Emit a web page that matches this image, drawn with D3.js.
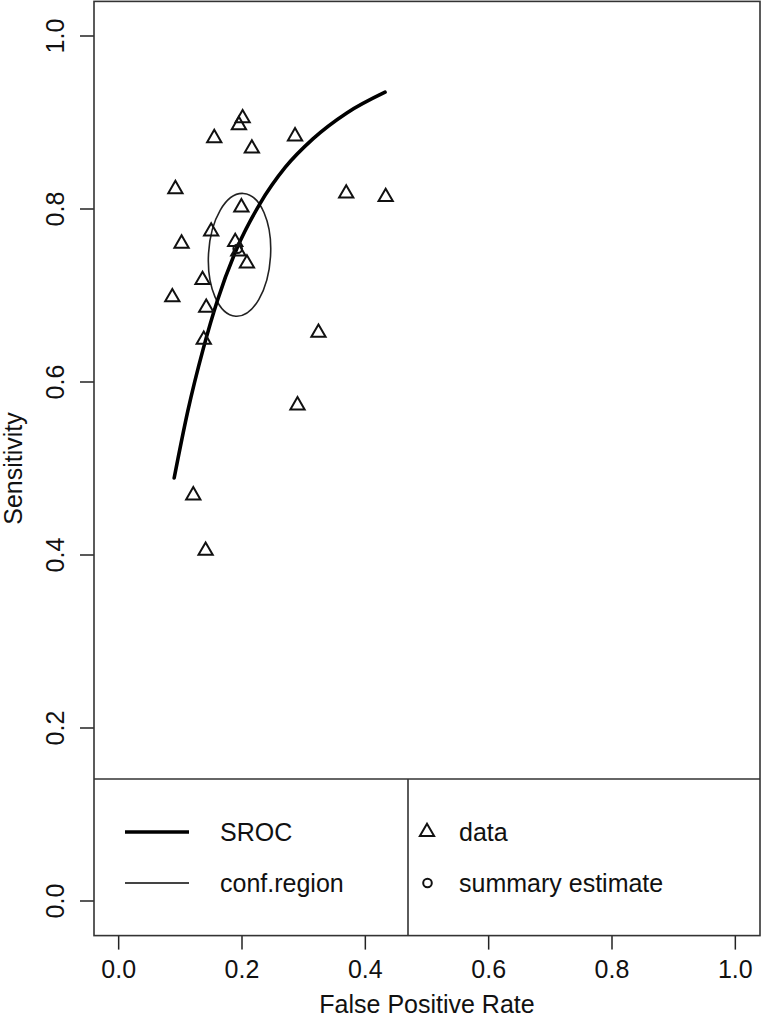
<!DOCTYPE html>
<html>
<head>
<meta charset="utf-8">
<script src="https://cdn.jsdelivr.net/npm/d3@7"></script>
<style>
	body { margin: 0; background: #fff; }
	svg { display: block; font-family: "Liberation Sans", Arial, Helvetica, sans-serif; }
	text { fill: #111; }
</style>
</head>
<body>
<div id="content"></div>
<script>
// study points
let fpr = [0.201, 0.195, 0.155, 0.216, 0.286, 0.092, 0.369, 0.433, 0.199, 0.150, 0.102,
	0.189, 0.194, 0.208, 0.136, 0.087, 0.142, 0.324, 0.138, 0.290, 0.121, 0.141]
let sens = [0.905, 0.897, 0.882, 0.870, 0.884, 0.823, 0.818, 0.814, 0.802, 0.774, 0.760,
	0.762, 0.751, 0.737, 0.718, 0.698, 0.686, 0.657, 0.649, 0.573, 0.469, 0.405]

// SROC curve, traced
let sroc_fpr = [0.090, 0.112, 0.137, 0.160, 0.192, 0.229, 0.270, 0.315, 0.370, 0.432]
let sroc_sens = [0.489, 0.566, 0.638, 0.694, 0.755, 0.806, 0.848, 0.881, 0.911, 0.935]

// summary estimate and its confidence region (centre, half widths)
let summary = { fpr: 0.193, sens: 0.754 }
let region = { fpr: 0.196, sens: 0.747, rx: 0.0503, ry: 0.0711 }

let x_ticks = [0, 0.2, 0.4, 0.6, 0.8, 1]
let y_ticks = [0, 0.2, 0.4, 0.6, 0.8, 1]

let legend_lines = ['SROC', 'conf.region']
let legend_points = ['data', 'summary estimate']

let WIDTH = 762
let HEIGHT = 1020
let FONT = 25
let TICK = 14

let x = d3.scaleLinear().domain([-0.04, 1.04]).range([94, 760])
let y = d3.scaleLinear().domain([-0.04, 1.04]).range([935.6, 1.4])

let svg = d3.select('#content').append('svg')
	.attr('width', WIDTH)
	.attr('height', HEIGHT)

let triangle = d3.symbol().type(d3.symbolTriangle).size(88)

// axes
let x_axis = svg.append('g')
	.attr('transform', `translate(0, ${y(-0.04)})`)
x_axis.selectAll('line').data(x_ticks).enter().append('line')
	.attr('x1', (d) => { return x(d) })
	.attr('x2', (d) => { return x(d) })
	.attr('y1', 0)
	.attr('y2', TICK)
	.attr('stroke', '#222')
	.attr('stroke-width', 1.5)
x_axis.selectAll('text').data(x_ticks).enter().append('text')
	.attr('x', (d) => { return x(d) })
	.attr('y', 42)
	.attr('text-anchor', 'middle')
	.style('font-size', `${FONT}px`)
	.text((d) => { return d.toFixed(1) })

let y_axis = svg.append('g')
	.attr('transform', `translate(${x(-0.04)}, 0)`)
y_axis.selectAll('line').data(y_ticks).enter().append('line')
	.attr('x1', 0)
	.attr('x2', -TICK)
	.attr('y1', (d) => { return y(d) })
	.attr('y2', (d) => { return y(d) })
	.attr('stroke', '#222')
	.attr('stroke-width', 1.5)
y_axis.selectAll('text').data(y_ticks).enter().append('text')
	.attr('transform', (d) => { return `translate(-30.5, ${y(d)}) rotate(-90)` })
	.attr('text-anchor', 'middle')
	.style('font-size', `${FONT}px`)
	.text((d) => { return d.toFixed(1) })

svg.append('text')
	.attr('x', (x(-0.04) + x(1.04)) / 2)
	.attr('y', 1013)
	.attr('text-anchor', 'middle')
	.style('font-size', `${FONT}px`)
	.text('False Positive Rate')

svg.append('text')
	.attr('transform', `translate(22, ${(y(-0.04) + y(1.04)) / 2}) rotate(-90)`)
	.attr('text-anchor', 'middle')
	.style('font-size', `${FONT}px`)
	.text('Sensitivity')

// confidence region
svg.append('ellipse')
	.attr('cx', x(region.fpr))
	.attr('cy', y(region.sens))
	.attr('rx', x(region.fpr + region.rx) - x(region.fpr))
	.attr('ry', y(region.sens) - y(region.sens + region.ry))
	.attr('transform', `rotate(3.5, ${x(region.fpr)}, ${y(region.sens)})`)
	.attr('fill', 'none')
	.attr('stroke', '#222')
	.attr('stroke-width', 1.6)

// SROC
let line = d3.line()
	.x((d) => { return x(d[0]) })
	.y((d) => { return y(d[1]) })
	.curve(d3.curveMonotoneX)

svg.append('path')
	.datum(d3.zip(sroc_fpr, sroc_sens))
	.attr('d', line)
	.attr('fill', 'none')
	.attr('stroke', '#000')
	.attr('stroke-width', 3.6)
	.attr('stroke-linecap', 'round')

// data points
svg.selectAll('path.point').data(d3.zip(fpr, sens)).enter().append('path')
	.attr('class', 'point')
	.attr('d', triangle)
	.attr('transform', (d) => { return `translate(${x(d[0])}, ${y(d[1])})` })
	.attr('fill', 'none')
	.attr('stroke', '#111')
	.attr('stroke-width', 2)

svg.append('circle')
	.attr('cx', x(summary.fpr))
	.attr('cy', y(summary.sens))
	.attr('r', 4.3)
	.attr('fill', 'none')
	.attr('stroke', '#111')
	.attr('stroke-width', 2)

// legend
let legend = svg.append('g')
legend.append('line')
	.attr('x1', x(-0.04)).attr('x2', x(1.04))
	.attr('y1', 779).attr('y2', 779)
	.attr('stroke', '#333').attr('stroke-width', 1.6)
legend.append('line')
	.attr('x1', 408).attr('x2', 408)
	.attr('y1', 779).attr('y2', y(-0.04))
	.attr('stroke', '#333').attr('stroke-width', 1.6)

let ROW = [832, 883]
legend.selectAll('line.key').data(legend_lines).enter().append('line')
	.attr('class', 'key')
	.attr('x1', 125).attr('x2', 189)
	.attr('y1', (d, i) => { return ROW[i] })
	.attr('y2', (d, i) => { return ROW[i] })
	.attr('stroke', (d, i) => { return i ? '#444' : '#000' })
	.attr('stroke-width', (d, i) => { return i ? 1.8 : 3.6 })
legend.selectAll('text.lines').data(legend_lines).enter().append('text')
	.attr('class', 'lines')
	.attr('x', 220)
	.attr('y', (d, i) => { return ROW[i] + 9 })
	.style('font-size', `${FONT}px`)
	.text((d) => { return d })

legend.append('path')
	.attr('d', triangle)
	.attr('transform', `translate(427, ${ROW[0]})`)
	.attr('fill', 'none').attr('stroke', '#111').attr('stroke-width', 2)
legend.append('circle')
	.attr('cx', 427.5).attr('cy', ROW[1]).attr('r', 4.3)
	.attr('fill', 'none').attr('stroke', '#111').attr('stroke-width', 2)
legend.selectAll('text.points').data(legend_points).enter().append('text')
	.attr('class', 'points')
	.attr('x', 459)
	.attr('y', (d, i) => { return ROW[i] + 9 })
	.style('font-size', `${FONT}px`)
	.text((d) => { return d })

// frame
svg.append('rect')
	.attr('x', x(-0.04))
	.attr('y', y(1.04))
	.attr('width', x(1.04) - x(-0.04))
	.attr('height', y(-0.04) - y(1.04))
	.attr('fill', 'none')
	.attr('stroke', '#333')
	.attr('stroke-width', 1.6)
</script>
</body>
</html>
